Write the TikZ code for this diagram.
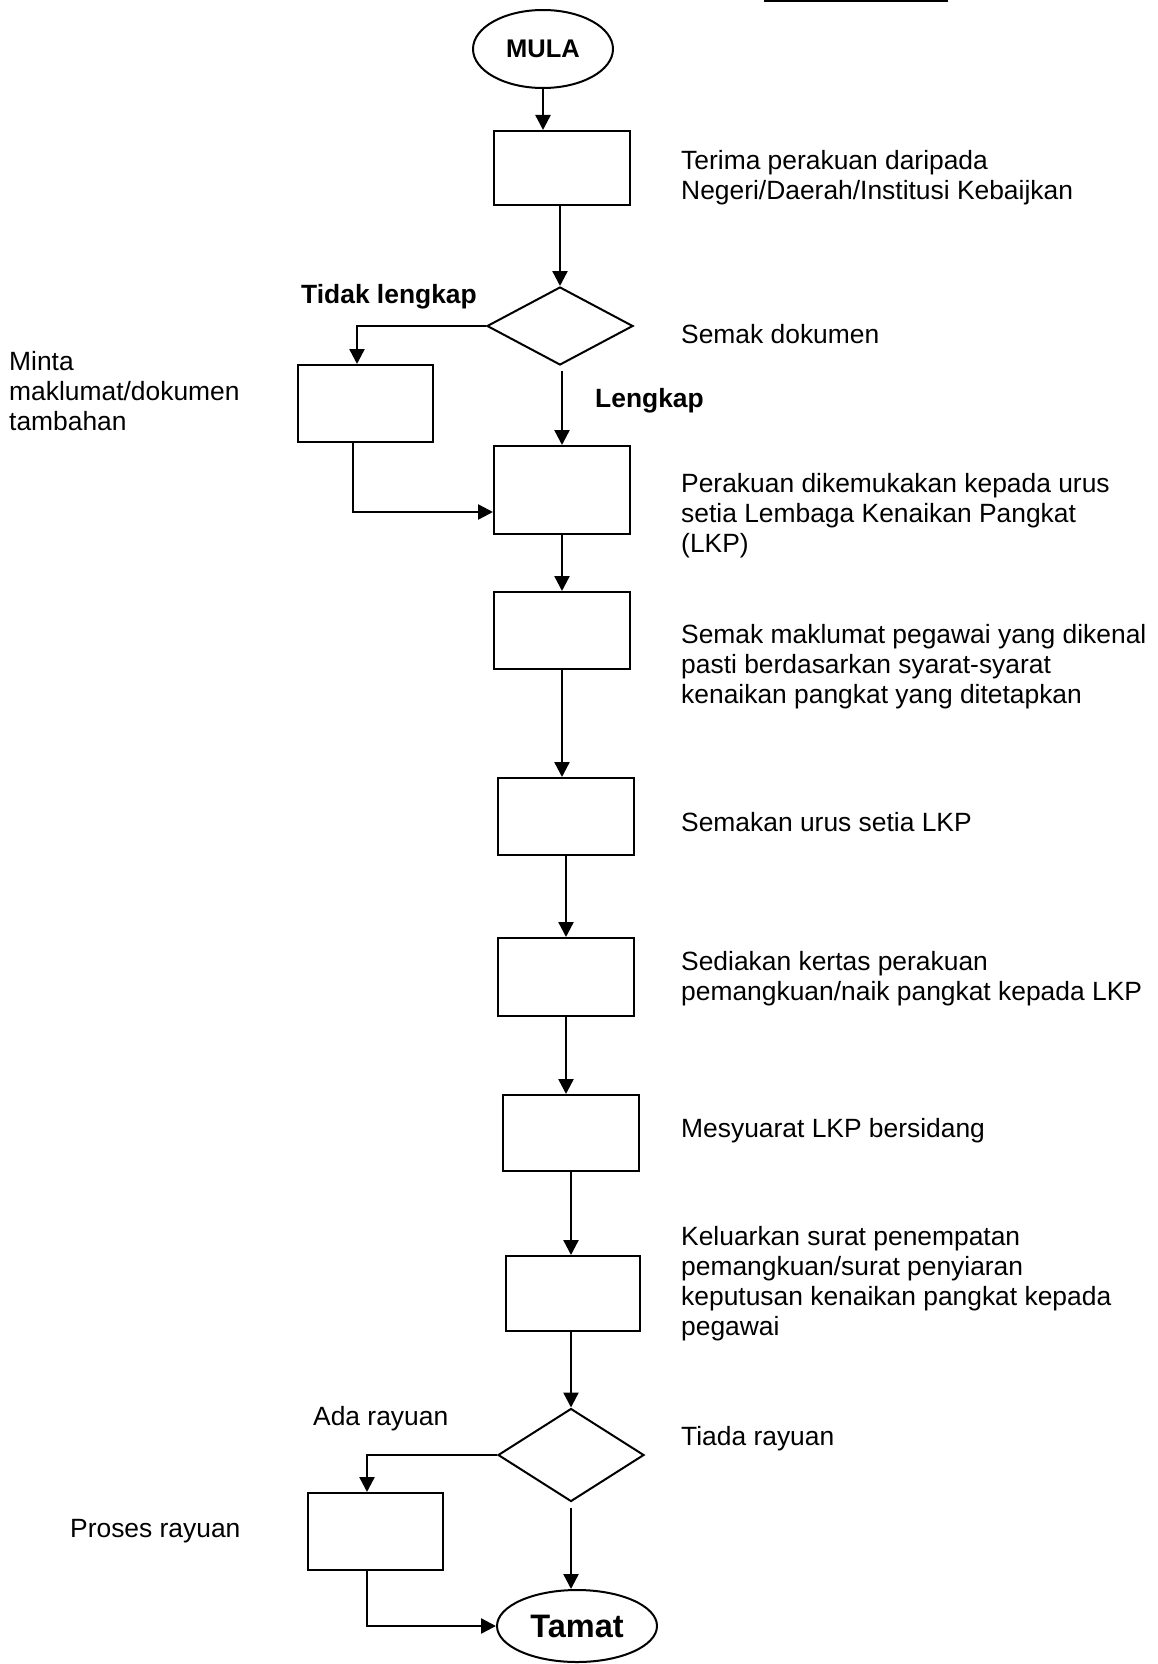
\documentclass[tikz,border=0pt]{standalone}
\usepackage{fontspec}
\setmainfont{Liberation Sans}
\usetikzlibrary{shapes.geometric,arrows.meta}
\newcommand{\mylines}[1]{\begin{tabular}[t]{@{}l@{}}#1\end{tabular}}
\begin{document}
\begin{tikzpicture}[x=1pt,y=-1pt,
  box/.style={draw,line width=2pt,rectangle,inner sep=0pt},
  dec/.style={draw,line width=2pt,diamond,inner sep=0pt},
  term/.style={draw,line width=2pt,ellipse,inner sep=0pt},
  arr/.style={line width=2.4pt,-{Triangle[length=15pt,width=15pt]}},
  txt/.style={anchor=base west,inner sep=0pt,font=\fontsize{26.4}{30}\selectfont},
  btxt/.style={anchor=base west,inner sep=0pt,font=\fontsize{26.4}{30}\selectfont\bfseries},
]
\useasboundingbox (0,0) rectangle (1157,1664);
\fill[white] (0,0) rectangle (1157,1664);

% top rule
\draw[line width=2.5pt] (764,1) -- (948,1);

% shapes
\node[term,minimum width=140pt,minimum height=78pt,font=\fontsize{25.5}{28}\selectfont\bfseries] (m) at (543,49) {MULA};
\node[box,minimum width=136pt,minimum height=74pt] (b1) at (562,168) {};
\node[dec,minimum width=146pt,minimum height=78pt] (d1) at (560,326) {};
\node[box,minimum width=135pt,minimum height=77pt] (bL1) at (365.5,403.5) {};
\node[box,minimum width=136pt,minimum height=88pt] (b2) at (562,490) {};
\node[box,minimum width=136pt,minimum height=77pt] (b3) at (562,630.5) {};
\node[box,minimum width=136pt,minimum height=77pt] (b4) at (566,816.5) {};
\node[box,minimum width=136pt,minimum height=78pt] (b5) at (566,977) {};
\node[box,minimum width=136pt,minimum height=76pt] (b6) at (571,1133) {};
\node[box,minimum width=134pt,minimum height=75pt] (b7) at (573,1293.5) {};
\node[dec,minimum width=146pt,minimum height=93pt] (d2) at (571,1455) {};
\node[box,minimum width=135pt,minimum height=77pt] (bL2) at (375.5,1531.5) {};
\node[term,minimum width=160pt,minimum height=72pt,font=\fontsize{32.5}{35}\selectfont\bfseries] (t) at (577,1626) {Tamat};

% helper coordinates
\coordinate (k1) at (357,0);
\coordinate (k2) at (353,512);
\coordinate (k3) at (367,0);

% connectors
\draw[arr] (m.south) -- (m.south |- b1.north);
\draw[arr] (b1.south -| d1.north) -- (d1.north);
\draw[arr] (d1.west) -| (bL1.north -| k1);
\draw[arr,shorten <=5pt] (d1.south -| b2.north) -- (b2.north);
\draw[arr] (bL1.south -| k2) |- (k2 -| b2.west);
\draw[arr] (b2.south) -- (b3.north);
\draw[arr] (b3.south) -- (b3.south |- b4.north);
\draw[arr] (b4.south) -- (b5.north);
\draw[arr] (b5.south) -- (b5.south |- b6.north);
\draw[arr] (b6.south) -- (b6.south |- b7.north);
\draw[arr] (b7.south -| d2.north) -- (d2.north);
\draw[arr] (d2.west) -| (bL2.north -| k3);
\draw[arr] (bL2.south -| k3) |- (t.west);
\draw[arr,shorten <=5pt] (d2.south) -- (d2.south |- t.north);

% texts
\node[txt] (l1) at (681,170) {\mylines{Terima perakuan daripada\\ Negeri/Daerah/Institusi Kebaijkan}};
\node[txt] (l2) at (681,343) {Semak dokumen};
\node[btxt] (l3) at (301,303) {Tidak lengkap};
\node[btxt] (l4) at (595,407) {Lengkap};
\node[txt] (l5) at (9,370) {\mylines{Minta\\ maklumat/dokumen\\ tambahan}};
\node[txt] (l6) at (681,492) {\mylines{Perakuan dikemukakan kepada urus\\ setia Lembaga Kenaikan Pangkat\\ (LKP)}};
\node[txt] (l7) at (681,643) {\mylines{Semak maklumat pegawai yang dikenal\\ pasti berdasarkan syarat-syarat\\ kenaikan pangkat yang ditetapkan}};
\node[txt] (l8) at (681,831) {Semakan urus setia LKP};
\node[txt] (l9) at (681,970) {\mylines{Sediakan kertas perakuan\\ pemangkuan/naik pangkat kepada LKP}};
\node[txt] (l10) at (681,1137) {Mesyuarat LKP bersidang};
\node[txt] (l11) at (681,1245) {\mylines{Keluarkan surat penempatan\\ pemangkuan/surat penyiaran\\ keputusan kenaikan pangkat kepada\\ pegawai}};
\node[txt] (l12) at (681,1445) {Tiada rayuan};
\node[txt] (l13) at (313,1425) {Ada rayuan};
\node[txt] (l14) at (70,1537) {Proses rayuan};
\end{tikzpicture}
\end{document}
